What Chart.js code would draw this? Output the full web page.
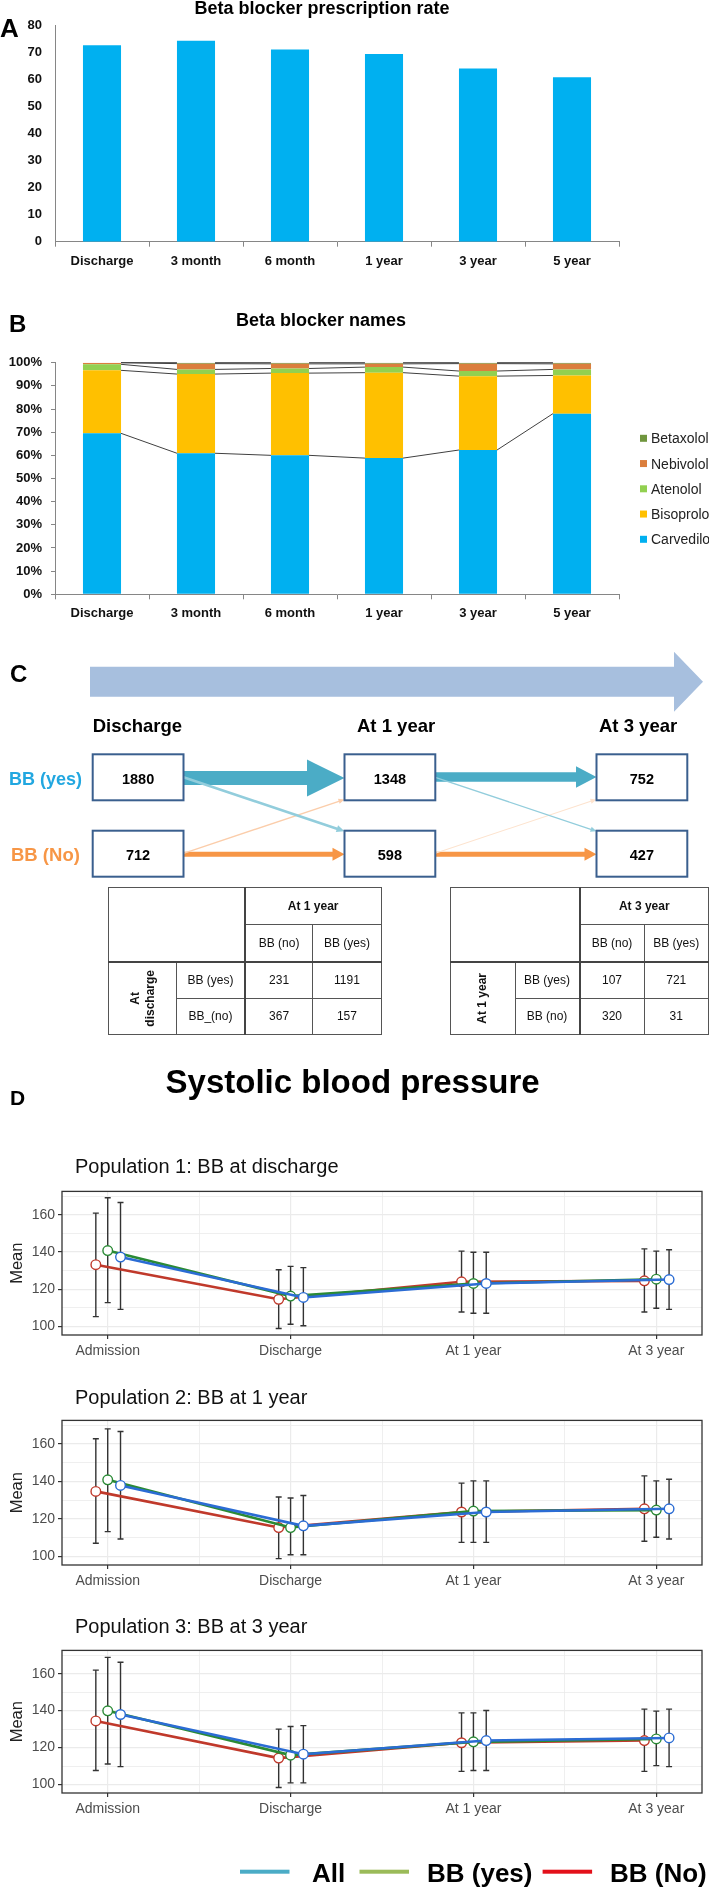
<!DOCTYPE html>
<html>
<head>
<meta charset="utf-8">
<script src="https://cdn.jsdelivr.net/npm/chart.js"></script>
<style>
  body { margin: 0; background: #fff; }
  #page { position: relative; width: 709px; height: 1887px; overflow: hidden; background: #fff; }
  canvas { position: absolute; left: 0; }
  #overlay { position: absolute; left: 0; top: 0; }
  table { position: absolute; border-collapse: collapse; table-layout: fixed;
          font-family: 'Liberation Sans', Arial, sans-serif; font-size: 12px; color: #111; }
  td { border: 1px solid #555; text-align: center; vertical-align: middle; padding: 0; }
  td.b { font-weight: bold; }
  .rot { writing-mode: vertical-rl; transform: rotate(180deg); font-weight: bold; margin: 0 auto; line-height: 15px; }
</style>
</head>
<body>
<div id="page">
  <canvas id="chartA"></canvas>
  <canvas id="chartB"></canvas>
  <canvas id="sbp1"></canvas>
  <canvas id="sbp2"></canvas>
  <canvas id="sbp3"></canvas>
  <svg id="overlay" width="709" height="1887"></svg>
  <table id="t1"></table>
  <table id="t2"></table>
</div>
<script>
// A: beta blocker prescription rate (%)
const periodLabels = ['Discharge', '3 month', '6 month', '1 year', '3 year', '5 year'];
const rateValues = [72.5, 74.2, 71.0, 69.3, 63.9, 60.7];

// B: beta blocker names (% of prescriptions), bottom to top
const drugNames = ['Carvedilol', 'Bisoprolol', 'Atenolol', 'Nebivolol', 'Betaxolol'];
const carvedilol = [69.5, 60.9, 60.0, 58.8, 62.3, 78.0];
const bisoprolol = [27.2, 34.2, 35.5, 36.9, 31.9, 16.5];
const atenolol = [2.6, 2.0, 2.0, 2.4, 2.2, 2.6];
const nebivolol = [0.7, 2.5, 2.0, 1.4, 3.2, 2.4];
const betaxolol = [0.0, 0.4, 0.5, 0.5, 0.4, 0.5];
const drugColors = ['#00B0F0', '#FFC000', '#92D050', '#DB7E3D', '#70963E'];

// C: patient flow
const stageNames = ['Discharge', 'At 1 year', 'At 3 year'];
const bbYesCounts = [1880, 1348, 752];
const bbNoCounts = [712, 598, 427];
const crossCols = ['BB (no)', 'BB (yes)'];
const cross1Rows = ['BB (yes)', 'BB_(no)'];
const cross1 = [[231, 1191], [367, 157]];
const cross2Rows = ['BB (yes)', 'BB (no)'];
const cross2 = [[107, 721], [320, 31]];

// D: systolic blood pressure, mean with error bars
const timeLabels = ['Admission', 'Discharge', 'At 1 year', 'At 3 year'];

const p1AllMean = [137.3, 115.6, 123.1, 125.2];
const p1AllLo = [109.2, 100.4, 107.1, 109.2];
const p1AllHi = [166.6, 131.6, 139.9, 141.2];
const p1YesMean = [140.8, 116.3, 123.1, 125.4];
const p1YesLo = [112.8, 101.2, 107.1, 109.8];
const p1YesHi = [169.2, 132.3, 139.9, 140.5];
const p1NoMean = [133.2, 114.6, 124.0, 124.5];
const p1NoLo = [105.3, 98.9, 107.8, 107.8];
const p1NoHi = [160.9, 130.5, 140.5, 141.7];

const p2AllMean = [137.9, 116.3, 123.7, 125.4];
const p2AllLo = [109.3, 100.9, 107.5, 109.3];
const p2AllHi = [166.7, 132.5, 140.3, 141.2];
const p2YesMean = [140.9, 115.4, 124.2, 124.7];
const p2YesLo = [113.2, 100.9, 107.5, 110.2];
const p2YesHi = [168.1, 131.2, 140.3, 140.3];
const p2NoMean = [134.7, 115.4, 123.7, 125.4];
const p2NoLo = [107.0, 98.8, 107.5, 108.1];
const p2NoHi = [162.8, 131.7, 139.1, 143.0];

const p3AllMean = [137.9, 116.4, 123.8, 125.2];
const p3AllLo = [109.7, 100.9, 107.6, 109.7];
const p3AllHi = [166.2, 131.9, 140.1, 140.8];
const p3YesMean = [139.9, 115.9, 123.1, 124.7];
const p3YesLo = [111.1, 100.9, 107.6, 110.2];
const p3YesHi = [168.8, 131.4, 138.8, 139.7];
const p3NoMean = [134.4, 114.3, 122.6, 123.8];
const p3NoLo = [107.6, 98.4, 107.1, 107.1];
const p3NoHi = [161.9, 130.0, 138.8, 140.8];

const legendNames = ['All', 'BB (yes)', 'BB (No)'];

Chart.defaults.font.family = "'Liberation Sans', Arial, sans-serif";
Chart.defaults.animation = false;

function place(id, top, w, h) {
    const c = document.getElementById(id);
    c.width = w; c.height = h;
    c.style.top = top + 'px';
    return c;
}

// ---------- Panel A ----------
const excelTick = { color: '#111', font: { size: 13, weight: 'bold' } };

new Chart(place('chartA', 0, 709, 300), {
    type: 'bar',
    data: {
        labels: periodLabels,
        datasets: [{ data: rateValues, backgroundColor: '#00B0F0', barPercentage: 0.405, categoryPercentage: 1 }]
    },
    options: {
        responsive: false,
        layout: { padding: { top: 25, right: 90 } },
        plugins: { legend: { display: false }, tooltip: { enabled: false } },
        scales: {
            x: {
                afterFit: s => { s.height = 58.3; },
                ticks: Object.assign({ padding: 6.5, maxRotation: 0 }, excelTick),
                grid: { drawOnChartArea: false, offset: true, tickLength: 5, color: '#868686' },
                border: { color: '#868686' }
            },
            y: {
                min: 0, max: 80,
                afterFit: s => { s.width = 55; },
                ticks: Object.assign({ stepSize: 10, padding: 13 }, excelTick),
                grid: { display: false, drawTicks: false },
                border: { color: '#868686' }
            }
        }
    }
});

// ---------- Panel B ----------
// Excel style series lines joining the tops of each stacked segment
const seriesLines = {
    id: 'seriesLines',
    afterDatasetsDraw(chart) {
        const ctx = chart.ctx;
        ctx.save();
        ctx.strokeStyle = '#404040';
        ctx.lineWidth = 1;
        chart.data.datasets.forEach((d, k) => {
            const bars = chart.getDatasetMeta(k).data;
            for (let i = 0; i < bars.length - 1; i++) {
                ctx.beginPath();
                ctx.moveTo(bars[i].x + bars[i].width / 2, bars[i].y);
                ctx.lineTo(bars[i + 1].x - bars[i + 1].width / 2, bars[i + 1].y);
                ctx.stroke();
            }
        });
        ctx.restore();
    }
};

const drugSeries = [carvedilol, bisoprolol, atenolol, nebivolol, betaxolol];

new Chart(place('chartB', 300, 709, 330), {
    type: 'bar',
    data: {
        labels: periodLabels,
        datasets: drugSeries.map((vals, k) => ({
            label: drugNames[k], data: vals, backgroundColor: drugColors[k],
            barPercentage: 0.405, categoryPercentage: 1
        }))
    },
    options: {
        responsive: false,
        layout: { padding: { top: 62.7, right: 90 } },
        plugins: { legend: { display: false }, tooltip: { enabled: false } },
        scales: {
            x: {
                stacked: true,
                afterFit: s => { s.height = 35.7; },
                ticks: Object.assign({ padding: 5.9, maxRotation: 0 }, excelTick),
                grid: { drawOnChartArea: false, offset: true, tickLength: 5, color: '#868686' },
                border: { color: '#868686' }
            },
            y: {
                stacked: true, min: 0, max: 100,
                afterFit: s => { s.width = 55; },
                ticks: Object.assign({ stepSize: 10, padding: 9, callback: v => v + '%' }, excelTick),
                grid: { drawOnChartArea: false, tickLength: 4, color: '#868686' },
                border: { color: '#868686' }
            }
        }
    },
    plugins: [seriesLines]
});

// ---------- Panel D ----------
const errorBars = {
    id: 'errorBars',
    beforeDatasetsDraw(chart) {
        const ctx = chart.ctx, ys = chart.scales.y;
        ctx.save();
        ctx.strokeStyle = '#333';
        ctx.lineWidth = 1.4;
        chart.data.datasets.forEach((d, k) => {
            chart.getDatasetMeta(k).data.forEach((pt, i) => {
                const top = ys.getPixelForValue(d.hi[i]);
                const bot = ys.getPixelForValue(d.lo[i]);
                ctx.beginPath();
                ctx.moveTo(pt.x, top); ctx.lineTo(pt.x, bot);
                ctx.moveTo(pt.x - 3, top); ctx.lineTo(pt.x + 3, top);
                ctx.moveTo(pt.x - 3, bot); ctx.lineTo(pt.x + 3, bot);
                ctx.stroke();
            });
        });
        ctx.restore();
    }
};

const panelFrame = {
    id: 'panelFrame',
    afterDraw(chart) {
        const a = chart.chartArea, ctx = chart.ctx;
        ctx.save();
        ctx.strokeStyle = '#333';
        ctx.lineWidth = 1.3;
        ctx.strokeRect(a.left, a.top, a.right - a.left, a.bottom - a.top);
        ctx.restore();
    }
};

const isMajor = v => Number.isInteger(v);

function sbpChart(id, areaTop, areaBottom, groups) {
    const canvas = place(id, areaTop - 10, 709, areaBottom - areaTop + 40);
    return new Chart(canvas, {
        type: 'scatter',
        data: {
            datasets: groups.map(g => ({
                data: g.mean.map((v, i) => ({ x: i + g.dodge, y: v })),
                lo: g.lo, hi: g.hi,
                showLine: true,
                borderColor: g.color, borderWidth: 2.6,
                pointRadius: 4.8, pointBorderWidth: 1.4,
                pointBackgroundColor: '#fff', pointBorderColor: g.color
            }))
        },
        options: {
            responsive: false,
            layout: { padding: { top: 10, right: 7 } },
            plugins: { legend: { display: false }, tooltip: { enabled: false } },
            scales: {
                x: {
                    type: 'linear', min: -0.25, max: 3.25,
                    afterBuildTicks: s => { s.ticks = [0, 0.5, 1, 1.5, 2, 2.5, 3].map(v => ({ value: v })); },
                    afterFit: s => { s.height = 30; },
                    ticks: {
                        callback: v => isMajor(v) ? timeLabels[v] : '',
                        color: '#4D4D4D', font: { size: 14 }, padding: 3.5, maxRotation: 0, autoSkip: false
                    },
                    grid: {
                        color: '#EBEBEB',
                        lineWidth: c => (c.tick && isMajor(c.tick.value)) ? 1.2 : 0.8,
                        tickLength: 4,
                        tickColor: c => (c.tick && isMajor(c.tick.value)) ? '#333' : 'rgba(0,0,0,0)'
                    },
                    border: { display: false }
                },
                y: {
                    min: 95.4, max: 172.6,
                    afterBuildTicks: s => { s.ticks = [100, 110, 120, 130, 140, 150, 160, 170].map(v => ({ value: v })); },
                    afterFit: s => { s.width = 62; },
                    ticks: {
                        callback: v => v % 20 === 0 ? v : '',
                        color: '#4D4D4D', font: { size: 14 }, padding: 3, autoSkip: false
                    },
                    grid: {
                        color: '#EBEBEB',
                        lineWidth: c => (c.tick && c.tick.value % 20 === 0) ? 1.2 : 0.8,
                        tickLength: 4,
                        tickColor: c => (c.tick && c.tick.value % 20 === 0) ? '#333' : 'rgba(0,0,0,0)'
                    },
                    border: { display: false },
                    title: { display: true, text: 'Mean', color: '#222', font: { size: 16.5 }, padding: { top: 8 } }
                }
            }
        },
        plugins: [errorBars, panelFrame]
    });
}

const allStyle = { color: '#2B6CD4', dodge: 0.07 };
const yesStyle = { color: '#2A8A35', dodge: 0 };
const noStyle = { color: '#C0392B', dodge: -0.065 };

sbpChart('sbp1', 1190, 1335, [
    Object.assign({ mean: p1AllMean, lo: p1AllLo, hi: p1AllHi }, allStyle),
    Object.assign({ mean: p1YesMean, lo: p1YesLo, hi: p1YesHi }, yesStyle),
    Object.assign({ mean: p1NoMean, lo: p1NoLo, hi: p1NoHi }, noStyle)
]);
sbpChart('sbp2', 1419.3, 1565.3, [
    Object.assign({ mean: p2AllMean, lo: p2AllLo, hi: p2AllHi }, allStyle),
    Object.assign({ mean: p2YesMean, lo: p2YesLo, hi: p2YesHi }, yesStyle),
    Object.assign({ mean: p2NoMean, lo: p2NoLo, hi: p2NoHi }, noStyle)
]);
sbpChart('sbp3', 1649.3, 1793.3, [
    Object.assign({ mean: p3AllMean, lo: p3AllLo, hi: p3AllHi }, allStyle),
    Object.assign({ mean: p3YesMean, lo: p3YesLo, hi: p3YesHi }, yesStyle),
    Object.assign({ mean: p3NoMean, lo: p3NoLo, hi: p3NoHi }, noStyle)
]);

// ---------- overlay: titles, legends and the flow diagram ----------
const svg = document.getElementById('overlay');
const NS = 'http://www.w3.org/2000/svg';

function el(tag, attrs, text) {
    const e = document.createElementNS(NS, tag);
    for (const k in attrs) e.setAttribute(k, attrs[k]);
    if (text !== undefined) e.textContent = text;
    svg.appendChild(e);
    return e;
}
function label(x, y, str, size, opts) {
    opts = opts || {};
    return el('text', {
        x: x, y: y, 'font-size': size,
        'font-family': opts.family || "'Liberation Sans', Arial, sans-serif",
        'font-weight': opts.weight || 'normal',
        'text-anchor': opts.anchor || 'start',
        fill: opts.color || '#000'
    }, str);
}

// panel letters
label(0, 37, 'A', 26, { weight: 'bold' });
label(9, 332, 'B', 24, { weight: 'bold' });
label(10, 682, 'C', 24, { weight: 'bold' });
label(10, 1105, 'D', 21, { weight: 'bold' });

label(322, 13.5, 'Beta blocker prescription rate', 18, { weight: 'bold', anchor: 'middle' });
label(321, 326, 'Beta blocker names', 18, { weight: 'bold', anchor: 'middle' });

// legend of panel B, top item is the last stacked series
for (let k = drugNames.length - 1, row = 0; k >= 0; k--, row++) {
    const cy = 438.3 + row * 25.25;
    el('rect', { x: 640, y: cy - 3.5, width: 7, height: 7, fill: drugColors[k] });
    label(651, cy + 5, drugNames[k], 14, { color: '#222' });
}

// flow diagram
function arrow(x1, y1, x2, y2, w, headLen, headHalf, color) {
    const dx = x2 - x1, dy = y2 - y1, len = Math.hypot(dx, dy);
    const ux = dx / len, uy = dy / len, nx = -uy, ny = ux;
    const bx = x2 - ux * headLen, by = y2 - uy * headLen;
    const p = [
        [x1 + nx * w / 2, y1 + ny * w / 2], [bx + nx * w / 2, by + ny * w / 2],
        [bx + nx * headHalf, by + ny * headHalf], [x2, y2],
        [bx - nx * headHalf, by - ny * headHalf], [bx - nx * w / 2, by - ny * w / 2],
        [x1 - nx * w / 2, y1 - ny * w / 2]
    ];
    el('polygon', { points: p.map(q => q.join(',')).join(' '), fill: color });
}

arrow(90, 681.7, 703, 681.7, 30, 29, 30, '#A7BFDE');

const boxX = [92.7, 344.5, 596.5], boxW = 90.8, boxH = 46;
const rowY = [754.3, 830.7];
const stageX = [92.7, 357, 599];
stageNames.forEach((s, i) => label(stageX[i], 731.5, s, 18.5, { weight: 'bold' }));
label(9, 785, 'BB (yes)', 18, { weight: 'bold', color: '#22A7E0' });
label(11, 861, 'BB (No)', 18.5, { weight: 'bold', color: '#F79646' });

// transitions: thick same-state arrows, then thin switching arrows
const L = boxX.map(x => x), R = boxX.map(x => x + boxW);
for (let s = 0; s < 2; s++) {
    const big = s === 0 ? { w: 14, hl: 37.5, hh: 18.4 } : { w: 9.4, hl: 20.5, hh: 10.7 };
    arrow(R[s], 778 - s, L[s + 1], 778 - s, big.w, big.hl, big.hh, '#4BACC6');
    arrow(R[s], 854.2, L[s + 1], 854.2, 5, 12, 6.5, '#F79646');
    arrow(R[s], 853.3, L[s + 1], 799.4, s === 0 ? 1.4 : 1, 6, 2.6, s === 0 ? '#FBCDAA' : '#FDE3CE');
    arrow(R[s], 777.3, L[s + 1], 831.2, s === 0 ? 2.7 : 1.3, s === 0 ? 8 : 6, s === 0 ? 3.6 : 2.6, '#92CDDC');
}

const rowCounts = [bbYesCounts, bbNoCounts];
rowCounts.forEach((counts, r) => {
    counts.forEach((n, i) => {
        el('rect', { x: boxX[i], y: rowY[r], width: boxW, height: boxH, fill: '#fff', stroke: '#3A5F8E', 'stroke-width': 2 });
        label(boxX[i] + boxW / 2, rowY[r] + 29.5, String(n), 14.5, { weight: 'bold', anchor: 'middle' });
    });
});

// panel D titles and legend
label(352.6, 1093.3, 'Systolic blood pressure', 33, { weight: 'bold', anchor: 'middle' });
label(75, 1173, 'Population 1: BB at discharge', 20, { color: '#111' });
label(75, 1404, 'Population 2: BB at 1 year', 20, { color: '#111' });
label(75, 1633.3, 'Population 3: BB at 3 year', 20, { color: '#111' });

const legendColors = ['#4BACC6', '#9BBB59', '#E3101A'];
const legendLineX = [240, 359.5, 542.6];
const legendTextX = [312, 427, 610];
legendNames.forEach((n, i) => {
    el('rect', { x: legendLineX[i], y: 1869.7, width: 49.5, height: 4, fill: legendColors[i] });
    label(legendTextX[i], 1881.7, n, 26, { weight: 'bold' });
});

// ---------- cross tables ----------
function crossTable(id, left, width, colTitle, rowNames, values, rotLines) {
    const t = document.getElementById(id);
    t.style.left = left + 'px';
    t.style.top = '887px';
    t.style.width = width + 'px';
    const cw = width / 4;
    let h = '<colgroup>' + ('<col style="width:' + cw + 'px">').repeat(4) + '</colgroup>';
    h += '<tr style="height:37px"><td colspan="2" rowspan="2" style="border-bottom:2px solid #444;border-right:2px solid #444"></td>' +
         '<td colspan="2" class="b">' + colTitle + '</td></tr>';
    h += '<tr style="height:37px">' + crossCols.map(c => '<td style="border-bottom:2px solid #444">' + c + '</td>').join('') + '</tr>';
    values.forEach((row, r) => {
        h += '<tr style="height:36.5px">';
        if (r === 0) h += '<td rowspan="2"><div class="rot">' + rotLines + '</div></td>';
        h += '<td style="border-right:2px solid #444">' + rowNames[r] + '</td>' + row.map(v => '<td>' + v + '</td>').join('') + '</tr>';
    });
    t.innerHTML = h;
}
crossTable('t1', 108, 272.5, 'At 1 year', cross1Rows, cross1, 'At<br>discharge');
crossTable('t2', 450, 258, 'At 3 year', cross2Rows, cross2, 'At 1 year');
</script>
</body>
</html>
